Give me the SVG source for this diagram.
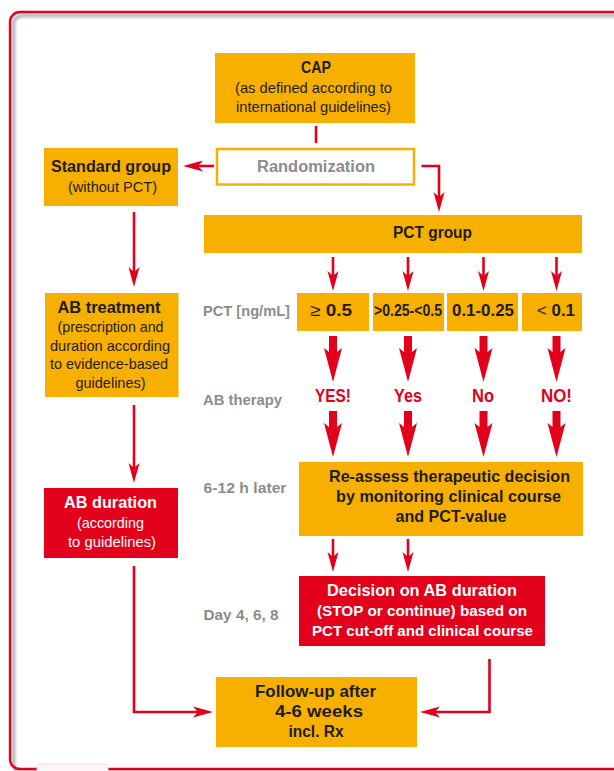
<svg xmlns="http://www.w3.org/2000/svg" width="614" height="771" viewBox="0 0 614 771">
<style>
.or{fill:#f8b000}
.rd{fill:#e2001a}
.t{font-family:"Liberation Sans",Arial,sans-serif}
.b{font-weight:bold}
.k{fill:#1d1d1b}
.w{fill:#ffffff}
.g{fill:#8c8c8c}
.r{fill:#e2001a}
.c{fill:none;stroke:#e2001a;stroke-width:2.6}
</style>
<defs>
<marker id="ah" markerUnits="userSpaceOnUse" viewBox="-21 -7 22 14" markerWidth="22" markerHeight="14" refX="-15" refY="0" orient="auto" overflow="visible">
<path d="M0,0 L-20,-5.5 L-15,0 L-20,5.5 Z" fill="#e2001a"/>
</marker>
<path id="thick" d="M-4,0 H4 V16 L9,12 L0,46 L-9,12 L-4,16 Z" fill="#e2001a"/>
<filter id="bl" x="-5%" y="-5%" width="110%" height="110%"><feGaussianBlur stdDeviation="1.6"/></filter>
</defs>

<g id="frame">
<rect x="10" y="12" width="620" height="757" rx="10" fill="#ffffff"/>
<rect x="13.5" y="15.5" width="620" height="757" rx="9" fill="none" stroke="#9ea8ad" stroke-width="3.5" filter="url(#bl)" opacity="0.9"/>
<rect x="10" y="12" width="620" height="757" rx="10" fill="none" stroke="#e2001a" stroke-width="2.4"/>
<rect x="37" y="764" width="71" height="10" rx="3" fill="#fdf6f6" stroke="#f4dede" stroke-width="1"/>
</g>

<g id="connectors">
<line class="c" x1="316" y1="126" x2="316" y2="143" stroke-width="3"/>
<line class="c" x1="214" y1="166" x2="198" y2="166" marker-end="url(#ah)"/>
<path class="c" d="M421.5,166 H439 V197" marker-end="url(#ah)"/>
<line class="c" x1="134" y1="212" x2="134" y2="272" marker-end="url(#ah)"/>
<line class="c" x1="134" y1="405" x2="134" y2="468" marker-end="url(#ah)"/>
<path class="c" d="M134,566 V712 H198" marker-end="url(#ah)"/>
<path class="c" d="M489.5,659 V712 H435" marker-end="url(#ah)"/>
<line class="c" x1="333" y1="257" x2="333" y2="276" marker-end="url(#ah)"/>
<line class="c" x1="408" y1="257" x2="408" y2="276" marker-end="url(#ah)"/>
<line class="c" x1="483.5" y1="257" x2="483.5" y2="276" marker-end="url(#ah)"/>
<line class="c" x1="556.5" y1="257" x2="556.5" y2="276" marker-end="url(#ah)"/>
<line class="c" x1="333" y1="539" x2="333" y2="557" marker-end="url(#ah)"/>
<line class="c" x1="408" y1="539" x2="408" y2="557" marker-end="url(#ah)"/>
<use href="#thick" x="333" y="336"/>
<use href="#thick" x="408" y="336"/>
<use href="#thick" x="483.5" y="336"/>
<use href="#thick" x="556.5" y="336"/>
<use href="#thick" x="333" y="411"/>
<use href="#thick" x="408" y="411"/>
<use href="#thick" x="483.5" y="411"/>
<use href="#thick" x="556.5" y="411"/>
</g>

<g id="cap">
<rect class="or" x="215" y="53" width="200" height="70"/>
<text class="t b k" x="301" y="73" font-size="16.5" textLength="30" lengthAdjust="spacingAndGlyphs">CAP</text>
<text class="t k" x="235" y="93" font-size="15" textLength="157" lengthAdjust="spacingAndGlyphs">(as defined according to</text>
<text class="t k" x="236" y="112" font-size="15" textLength="155" lengthAdjust="spacingAndGlyphs">international guidelines)</text>
</g>

<g id="randomization">
<rect x="217" y="149" width="197" height="35.5" fill="#ffffff" stroke="#f8b000" stroke-width="2.5"/>
<text class="t b g" x="257" y="172" font-size="16" textLength="118" lengthAdjust="spacingAndGlyphs">Randomization</text>
</g>

<g id="standard">
<rect class="or" x="44" y="148" width="134" height="58"/>
<text class="t b k" x="51" y="172" font-size="16" textLength="120" lengthAdjust="spacingAndGlyphs">Standard group</text>
<text class="t k" x="68" y="192" font-size="15" textLength="89" lengthAdjust="spacingAndGlyphs">(without PCT)</text>
</g>

<g id="pctgroup">
<rect class="or" x="204" y="215" width="378" height="38"/>
<text class="t b k" x="393" y="238" font-size="16.5" textLength="79" lengthAdjust="spacingAndGlyphs">PCT group</text>
</g>

<g id="pctlabel">
<text class="t b g" x="203" y="316" font-size="15" textLength="87" lengthAdjust="spacingAndGlyphs">PCT [ng/mL]</text>
</g>

<g id="v1">
<rect class="or" x="297" y="293" width="72" height="38"/>
<text class="t k" x="310" y="316" font-size="17" textLength="42" lengthAdjust="spacingAndGlyphs">≥<tspan class="b"> 0.5</tspan></text>
</g>
<g id="v2">
<rect class="or" x="373" y="293" width="71" height="38"/>
<text class="t b k" x="374" y="316" font-size="16" textLength="68" lengthAdjust="spacingAndGlyphs">&gt;0.25-&lt;0.5</text>
</g>
<g id="v3">
<rect class="or" x="447" y="293" width="71" height="38"/>
<text class="t b k" x="452" y="316" font-size="17" textLength="62" lengthAdjust="spacingAndGlyphs">0.1-0.25</text>
</g>
<g id="v4">
<rect class="or" x="522" y="293" width="60" height="38"/>
<text class="t k" x="537" y="316" font-size="17" textLength="38" lengthAdjust="spacingAndGlyphs">&lt;<tspan class="b"> 0.1</tspan></text>
</g>

<g id="abtreatment">
<rect class="or" x="45" y="293" width="133.5" height="104"/>
<text class="t b k" x="57.5" y="313" font-size="16.5" textLength="103" lengthAdjust="spacingAndGlyphs">AB treatment</text>
<text class="t k" x="57.5" y="332" font-size="15" textLength="106" lengthAdjust="spacingAndGlyphs">(prescription and</text>
<text class="t k" x="50" y="351" font-size="15" textLength="120" lengthAdjust="spacingAndGlyphs">duration according</text>
<text class="t k" x="50" y="369" font-size="15" textLength="118" lengthAdjust="spacingAndGlyphs">to evidence-based</text>
<text class="t k" x="75.5" y="388" font-size="15" textLength="70" lengthAdjust="spacingAndGlyphs">guidelines)</text>
</g>

<g id="abtherapy">
<text class="t b g" x="203" y="405" font-size="15" textLength="79" lengthAdjust="spacingAndGlyphs">AB therapy</text>
<text class="t b r" x="315" y="402" font-size="17.5" textLength="36" lengthAdjust="spacingAndGlyphs">YES!</text>
<text class="t b r" x="394" y="402" font-size="17.5" textLength="28" lengthAdjust="spacingAndGlyphs">Yes</text>
<text class="t b r" x="472" y="402" font-size="17.5" textLength="22" lengthAdjust="spacingAndGlyphs">No</text>
<text class="t b r" x="541" y="402" font-size="17.5" textLength="31" lengthAdjust="spacingAndGlyphs">NO!</text>
</g>

<g id="reassess">
<rect class="or" x="299" y="462" width="284" height="74"/>
<text class="t b k" x="329" y="482" font-size="16.5" textLength="241" lengthAdjust="spacingAndGlyphs">Re-assess therapeutic decision</text>
<text class="t b k" x="336" y="502" font-size="16.5" textLength="225" lengthAdjust="spacingAndGlyphs">by monitoring clinical course</text>
<text class="t b k" x="395.5" y="522" font-size="16.5" textLength="111" lengthAdjust="spacingAndGlyphs">and PCT-value</text>
</g>

<g id="later">
<text class="t b g" x="203.5" y="493" font-size="15" textLength="83" lengthAdjust="spacingAndGlyphs">6-12 h later</text>
</g>

<g id="abduration">
<rect class="rd" x="44" y="488" width="134" height="70"/>
<text class="t b w" x="64" y="508" font-size="16.5" textLength="93" lengthAdjust="spacingAndGlyphs">AB duration</text>
<text class="t w" x="77" y="528" font-size="15" textLength="67" lengthAdjust="spacingAndGlyphs">(according</text>
<text class="t w" x="68" y="547" font-size="15" textLength="88" lengthAdjust="spacingAndGlyphs">to guidelines)</text>
</g>

<g id="decision">
<rect class="rd" x="299" y="576" width="246" height="70"/>
<text class="t b w" x="327" y="596" font-size="16.5" textLength="190" lengthAdjust="spacingAndGlyphs">Decision on AB duration</text>
<text class="t b w" x="317" y="616" font-size="15.5" textLength="210" lengthAdjust="spacingAndGlyphs">(STOP or continue) based on</text>
<text class="t b w" x="312" y="636" font-size="15.5" textLength="221" lengthAdjust="spacingAndGlyphs">PCT cut-off and clinical course</text>
</g>

<g id="day">
<text class="t b g" x="203.5" y="620" font-size="15" textLength="75" lengthAdjust="spacingAndGlyphs">Day 4, 6, 8</text>
</g>

<g id="followup">
<rect class="or" x="216" y="677" width="201" height="70"/>
<text class="t b k" x="255" y="697" font-size="16.5" textLength="121" lengthAdjust="spacingAndGlyphs">Follow-up after</text>
<text class="t b k" x="275" y="717" font-size="16.5" textLength="88" lengthAdjust="spacingAndGlyphs">4-6 weeks</text>
<text class="t b k" x="288.5" y="737" font-size="16.5" textLength="55" lengthAdjust="spacingAndGlyphs">incl. Rx</text>
</g>
</svg>
